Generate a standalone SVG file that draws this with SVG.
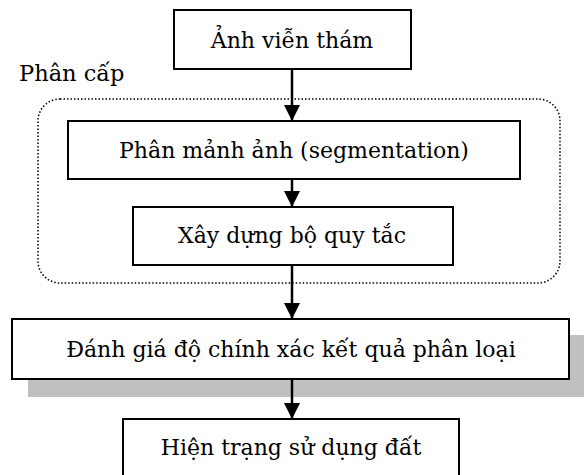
<svg xmlns="http://www.w3.org/2000/svg" width="584" height="475" viewBox="0 0 584 475">
  <defs>
    <marker id="arrow" viewBox="0 0 16 16" refX="16" refY="8" markerWidth="16" markerHeight="16" markerUnits="userSpaceOnUse" orient="auto">
      <path d="M0,0 L16,8 L0,16 Z" fill="#000"/>
    </marker>
    <style>
      .box { fill: #fff; stroke: #000; stroke-width: 2; }
      .label { font-family: "DejaVu Serif", "Liberation Serif", serif; font-size: 22px; fill: #000; text-anchor: middle; }
      .edge { stroke: #000; stroke-width: 2.5; fill: none; marker-end: url(#arrow); }
    </style>
  </defs>
  <rect width="584" height="475" fill="#fff"/>

  <!-- hierarchical group frame -->
  <g id="group-phan-cap">
    <rect x="38" y="99" width="522" height="184" rx="22" fill="none" stroke="#000" stroke-width="1.5" stroke-dasharray="1.5 2"/>
    <text x="19" y="81" font-family="DejaVu Serif, Liberation Serif, serif" font-size="22.5">Phân cấp</text>
  </g>

  <g id="anh-vien-tham">
    <rect class="box" x="174" y="10" width="237" height="59"/>
    <text class="label" x="292" y="48">Ảnh viễn thám</text>
  </g>

  <g id="phan-manh-anh">
    <rect class="box" x="68" y="121" width="452" height="58"/>
    <text class="label" x="294" y="158">Phân mảnh ảnh (segmentation)</text>
  </g>

  <g id="xay-dung-bo-quy-tac">
    <rect class="box" x="133" y="207" width="320" height="58"/>
    <text class="label" x="292" y="243">Xây dựng bộ quy tắc</text>
  </g>

  <g id="danh-gia">
    <rect x="28" y="335" width="556" height="62" fill="#c0c0c0"/>
    <rect class="box" x="12" y="319" width="557" height="60"/>
    <text class="label" x="291" y="357">Đánh giá độ chính xác kết quả phân loại</text>
  </g>

  <g id="hien-trang">
    <rect class="box" x="123" y="419" width="336" height="60"/>
    <text class="label" x="291" y="455">Hiện trạng sử dụng đất</text>
  </g>

  <g id="connectors">
    <line class="edge" x1="292" y1="70" x2="292" y2="121"/>
    <line class="edge" x1="292" y1="179" x2="292" y2="207"/>
    <line class="edge" x1="292" y1="265" x2="292" y2="319"/>
    <line class="edge" x1="292" y1="379" x2="292" y2="419"/>
  </g>
</svg>
